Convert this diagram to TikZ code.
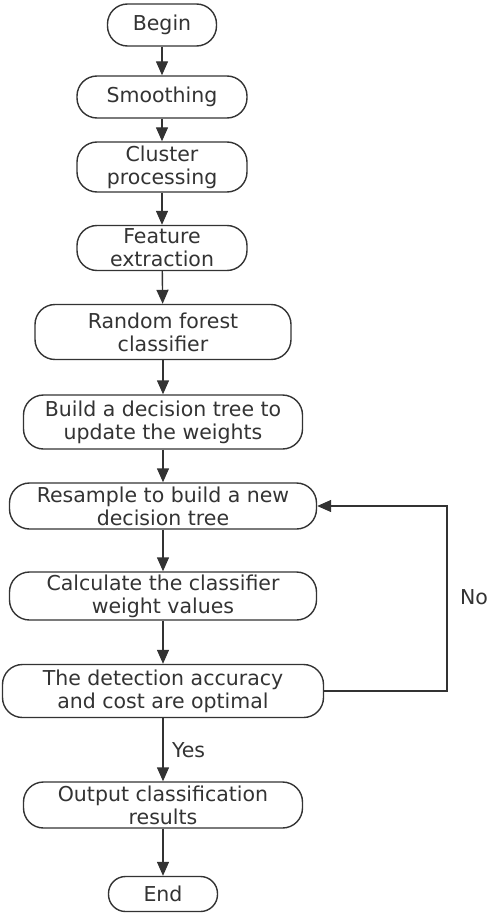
\documentclass[tikz,border=0pt]{standalone}
\usepackage{fontspec}
\setmainfont{DejaVu Sans}
\usetikzlibrary{arrows.meta}
\definecolor{inkgray}{HTML}{333333}

\begin{document}
\begin{tikzpicture}[x=1pt,y=-1pt,
    stepbox/.style={draw=inkgray, line width=1.4pt, rounded corners=20pt, align=center,
        inner sep=0pt, font=\fontsize{20.5}{23}\selectfont, text=inkgray},
    flow/.style={draw=inkgray, line width=1.4pt, -{Triangle[length=14pt,width=12pt]}}]
        \useasboundingbox (0,0) rectangle (491,915);
        \node[stepbox, minimum width=109pt, minimum height=42pt] (begin) at (162,25) {Begin};
        \node[stepbox, minimum width=170pt, minimum height=42pt] (smooth) at (162,97) {Smoothing};
        \node[stepbox, minimum width=170pt, minimum height=50pt] (cluster) at (162,167) {Cluster\\processing};
        \node[stepbox, minimum width=170pt, minimum height=45pt] (feature) at (162,248) {Feature\\extraction};
        \node[stepbox, minimum width=256pt, minimum height=55pt] (forest) at (163,332) {Random forest\\classifier};
        \node[stepbox, minimum width=279pt, minimum height=54pt] (build) at (163,422) {Build a decision tree to\\update the weights};
        \node[stepbox, minimum width=307pt, minimum height=46pt] (resample) at (163,506) {Resample to build a new\\decision tree};
        \node[stepbox, minimum width=307pt, minimum height=48pt] (calc) at (163,596) {Calculate the classifier\\weight values};
        \node[stepbox, minimum width=321pt, minimum height=53pt] (check) at (163,691) {The detection accuracy\\and cost are optimal};
        \node[stepbox, minimum width=279pt, minimum height=46pt] (output) at (163,805) {Output classification\\results};
        \node[stepbox, rounded corners=17pt, minimum width=109pt, minimum height=35pt] (end) at (163,894) {End};
        \coordinate (loopa) at (447,691);
        \coordinate (loopb) at (447,506);
        \draw[flow] (begin) -- (smooth);
        \draw[flow] (smooth) -- (cluster);
        \draw[flow] (cluster) -- (feature);
        \draw[flow] (feature) -- (forest);
        \draw[flow] (forest) -- (build);
        \draw[flow] (build) -- (resample);
        \draw[flow] (resample) -- (calc);
        \draw[flow] (calc) -- (check);
        \draw[flow] (check) -- node[right=5pt, font=\fontsize{20.5}{23}\selectfont, text=inkgray] {Yes} (output);
        \draw[flow] (output) -- (end);
        \draw[flow] (check.east) -- (loopa) -- (loopb) -- (resample.east);
        \node[font=\fontsize{20.5}{23}\selectfont, text=inkgray] (no) at (474,597) {No};
    \end{tikzpicture}
\end{document}
